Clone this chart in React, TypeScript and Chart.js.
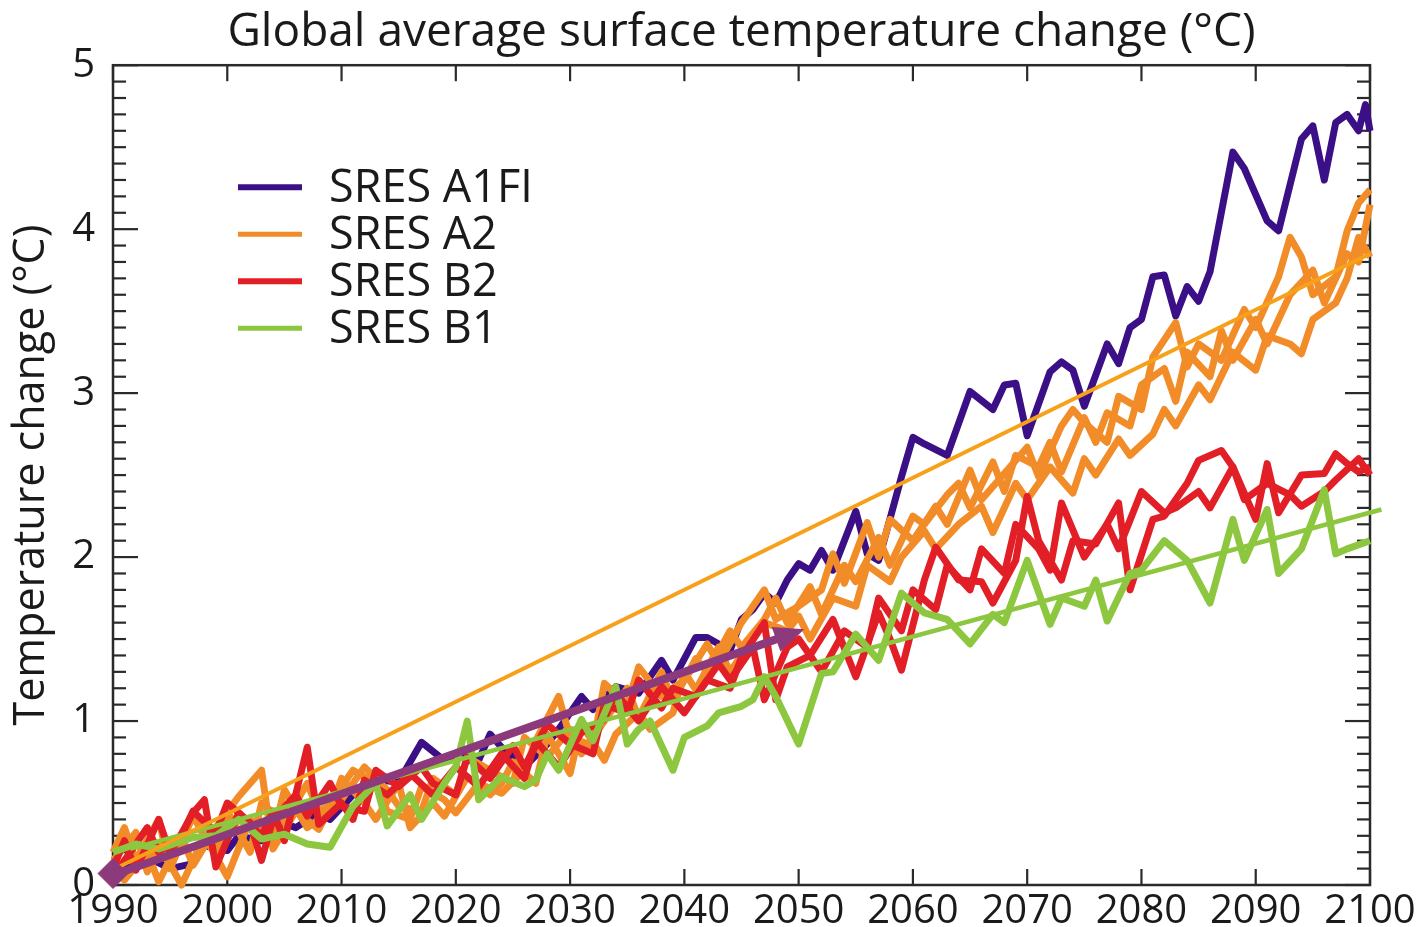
import { useEffect, useRef } from 'react';
import { Chart, registerables } from 'chart.js';

Chart.register(...registerables);

// ---------- text & axes ----------
const TITLE = 'Global average surface temperature change (°C)';
const Y_TITLE = 'Temperature change (°C)';
const X_MIN = 1990;
const X_MAX = 2100;
const X_STEP = 10;
const Y_MIN = 0;
const Y_MAX = 5;
const Y_STEP = 1;
const Y_MINOR = 0.1;
const LEGEND_LABELS = ['SRES A1FI', 'SRES A2', 'SRES B2', 'SRES B1'];

// ---------- series ----------
const A1FI_YEARS = [1990, 1991, 1993, 1995, 1997, 1998, 2000, 2001, 2003, 2004, 2006, 2008, 2009, 2011, 2013, 2015, 2017, 2019, 2020, 2022, 2023, 2024, 2026, 2028, 2029, 2031, 2032, 2034, 2036, 2037, 2038, 2039, 2041, 2042, 2044, 2045, 2046, 2047, 2048, 2049, 2050, 2051, 2052, 2053, 2055, 2056, 2057, 2059, 2060, 2061, 2063, 2065, 2067, 2068, 2069, 2070, 2072, 2073, 2074, 2075, 2077, 2078, 2079, 2080, 2081, 2082, 2083, 2084, 2085, 2086, 2088, 2089, 2091, 2092, 2094, 2095, 2096, 2097, 2098, 2099, 2099.6, 2100];
const A1FI_VALUES = [0.05, 0.10, 0.17, 0.10, 0.13, 0.24, 0.21, 0.30, 0.27, 0.40, 0.35, 0.44, 0.40, 0.55, 0.64, 0.63, 0.87, 0.76, 0.80, 0.76, 0.92, 0.84, 0.72, 0.86, 0.95, 1.15, 1.07, 1.21, 1.17, 1.27, 1.37, 1.25, 1.51, 1.51, 1.43, 1.62, 1.68, 1.78, 1.72, 1.86, 1.96, 1.92, 2.04, 1.92, 2.28, 2.02, 1.98, 2.49, 2.73, 2.69, 2.62, 3.01, 2.90, 3.05, 3.06, 2.74, 3.13, 3.19, 3.14, 2.92, 3.30, 3.18, 3.40, 3.45, 3.71, 3.72, 3.47, 3.65, 3.56, 3.74, 4.47, 4.37, 4.05, 3.99, 4.55, 4.63, 4.30, 4.65, 4.70, 4.60, 4.76, 4.60];

const A2_RUN1_YEARS = [1990, 1991, 1993, 1994, 1996, 1997, 1999, 2001, 2003, 2004, 2006, 2008, 2010, 2011, 2013, 2014, 2016, 2017, 2019, 2020, 2022, 2024, 2026, 2027, 2029, 2030, 2032, 2033, 2035, 2036, 2038, 2040, 2042, 2043, 2045, 2047, 2048, 2050, 2052, 2053, 2054, 2056, 2057, 2058, 2060, 2062, 2063, 2065, 2066, 2068, 2070, 2071, 2073, 2074, 2075, 2077, 2078, 2080, 2081, 2083, 2084, 2085, 2087, 2089, 2090, 2092, 2093, 2094, 2095, 2097, 2098, 2099, 2100];
const A2_RUN1_VALUES = [0.10, 0.03, 0.20, 0.02, 0.30, 0.12, 0.35, 0.54, 0.70, 0.22, 0.45, 0.34, 0.60, 0.70, 0.62, 0.45, 0.40, 0.60, 0.52, 0.44, 0.62, 0.56, 0.70, 0.88, 1.15, 0.90, 0.85, 1.23, 1.10, 1.33, 1.15, 1.25, 1.47, 1.35, 1.60, 1.80, 1.62, 1.70, 1.80, 2.02, 1.84, 2.21, 2.00, 2.23, 2.10, 2.31, 2.20, 2.53, 2.35, 2.51, 2.67, 2.49, 2.80, 2.90, 2.82, 2.70, 2.98, 2.90, 3.22, 3.43, 3.16, 3.30, 3.20, 3.51, 3.40, 3.71, 3.95, 3.83, 3.60, 3.71, 3.99, 4.16, 4.24];

const A2_RUN2_YEARS = [1990, 1992, 1993, 1994, 1996, 1998, 2000, 2002, 2004, 2005, 2007, 2009, 2010, 2012, 2013, 2015, 2016, 2018, 2019, 2021, 2023, 2024, 2025, 2027, 2028, 2030, 2031, 2033, 2034, 2036, 2037, 2039, 2040, 2041, 2043, 2044, 2046, 2047, 2049, 2050, 2051, 2053, 2055, 2056, 2058, 2059, 2061, 2062, 2064, 2066, 2067, 2069, 2070, 2072, 2074, 2075, 2076, 2078, 2079, 2081, 2082, 2083, 2085, 2086, 2088, 2090, 2091, 2093, 2094, 2095, 2097, 2098, 2099, 2100];
const A2_RUN2_VALUES = [0.15, 0.32, 0.08, 0.25, 0.00, 0.30, 0.05, 0.40, 0.30, 0.58, 0.35, 0.45, 0.65, 0.50, 0.40, 0.62, 0.35, 0.50, 0.42, 0.66, 0.55, 0.62, 0.75, 0.62, 0.92, 0.68, 0.98, 0.76, 0.92, 1.05, 0.95, 1.05, 1.30, 1.19, 1.45, 1.30, 1.50, 1.60, 1.55, 1.64, 1.50, 1.75, 1.70, 1.95, 1.85, 2.00, 2.16, 2.05, 2.20, 2.31, 2.15, 2.45, 2.35, 2.55, 2.39, 2.60, 2.50, 2.72, 2.62, 2.75, 2.90, 2.80, 3.05, 2.96, 3.25, 3.14, 3.35, 3.30, 3.24, 3.45, 3.55, 3.70, 3.95, 3.83];

const A2_RUN3_YEARS = [1990, 1991, 1992, 1994, 1995, 1997, 1999, 2000, 2002, 2003, 2005, 2007, 2008, 2010, 2012, 2014, 2015, 2017, 2018, 2020, 2021, 2023, 2025, 2026, 2028, 2030, 2031, 2033, 2035, 2036, 2038, 2039, 2041, 2042, 2044, 2045, 2047, 2048, 2049, 2051, 2052, 2054, 2055, 2057, 2058, 2060, 2061, 2063, 2064, 2065, 2067, 2068, 2069, 2071, 2072, 2073, 2075, 2076, 2077, 2079, 2080, 2082, 2083, 2084, 2086, 2087, 2088, 2090, 2091, 2093, 2095, 2096, 2098, 2099, 2100];
const A2_RUN3_VALUES = [0.20, 0.35, 0.15, 0.40, 0.10, 0.42, 0.18, 0.45, 0.20, 0.50, 0.38, 0.62, 0.45, 0.52, 0.72, 0.58, 0.48, 0.45, 0.65, 0.55, 0.78, 0.70, 0.62, 0.90, 0.78, 0.95, 0.80, 1.00, 1.20, 1.02, 1.30, 1.12, 1.38, 1.30, 1.55, 1.45, 1.62, 1.75, 1.60, 1.82, 1.65, 1.95, 1.85, 2.12, 1.95, 2.25, 2.20, 2.38, 2.45, 2.30, 2.58, 2.40, 2.62, 2.55, 2.70, 2.52, 2.85, 2.70, 2.88, 2.80, 3.05, 3.15, 2.95, 3.25, 3.10, 3.38, 3.20, 3.45, 3.30, 3.60, 3.75, 3.55, 3.85, 3.80, 4.15];

const B2_RUN1_YEARS = [1990, 1991, 1992, 1994, 1995, 1997, 1998, 1999, 2001, 2003, 2004, 2005, 2007, 2008, 2010, 2011, 2012, 2014, 2016, 2018, 2020, 2022, 2024, 2026, 2027, 2029, 2031, 2033, 2034, 2036, 2038, 2040, 2042, 2044, 2045, 2047, 2048, 2049, 2051, 2053, 2055, 2057, 2058, 2059, 2061, 2062, 2064, 2066, 2067, 2069, 2070, 2071, 2073, 2074, 2076, 2078, 2079, 2081, 2082, 2084, 2085, 2087, 2088, 2090, 2091, 2092, 2094, 2096, 2097, 2098, 2099, 2100];
const B2_RUN1_VALUES = [0.10, 0.27, 0.09, 0.40, 0.19, 0.44, 0.52, 0.11, 0.44, 0.30, 0.45, 0.27, 0.84, 0.37, 0.50, 0.40, 0.64, 0.55, 0.68, 0.55, 0.72, 0.60, 0.80, 0.65, 0.88, 0.72, 0.93, 1.01, 1.17, 1.00, 1.21, 1.05, 1.25, 1.20, 1.39, 1.60, 1.13, 1.33, 1.40, 1.62, 1.27, 1.66, 1.50, 1.31, 1.86, 2.06, 1.86, 1.85, 1.72, 1.98, 2.37, 2.10, 1.86, 2.10, 2.08, 2.33, 1.80, 2.23, 2.25, 2.45, 2.59, 2.65, 2.55, 2.23, 2.57, 2.27, 2.50, 2.51, 2.63, 2.57, 2.52, 2.55];

const B2_RUN2_YEARS = [1990, 1991, 1993, 1994, 1996, 1997, 1999, 2000, 2002, 2003, 2004, 2006, 2007, 2009, 2010, 2012, 2013, 2015, 2017, 2018, 2020, 2021, 2023, 2025, 2026, 2028, 2030, 2032, 2033, 2035, 2036, 2038, 2039, 2041, 2043, 2044, 2046, 2047, 2049, 2050, 2052, 2054, 2056, 2057, 2059, 2060, 2062, 2063, 2065, 2066, 2068, 2069, 2071, 2072, 2073, 2075, 2077, 2078, 2080, 2082, 2083, 2085, 2086, 2088, 2089, 2091, 2093, 2094, 2096, 2097, 2099, 2100];
const B2_RUN2_VALUES = [0.05, 0.15, 0.35, 0.20, 0.30, 0.45, 0.32, 0.50, 0.38, 0.15, 0.40, 0.55, 0.42, 0.62, 0.48, 0.45, 0.70, 0.60, 0.72, 0.62, 0.55, 0.78, 0.65, 0.85, 0.72, 0.98, 0.86, 0.80, 1.10, 1.05, 1.25, 1.08, 1.20, 1.15, 1.35, 1.25, 1.45, 1.13, 1.45, 1.50, 1.30, 1.55, 1.45, 1.75, 1.55, 1.80, 1.68, 1.95, 1.80, 2.05, 1.90, 2.20, 2.05, 1.92, 2.33, 2.00, 2.20, 2.05, 2.40, 2.27, 2.30, 2.40, 2.30, 2.55, 2.35, 2.45, 2.38, 2.31, 2.40, 2.47, 2.60, 2.50];

const B1_YEARS = [1990, 1992, 1994, 1997, 1999, 2001, 2003, 2005, 2007, 2009, 2011, 2013, 2014, 2016, 2017, 2019, 2020, 2021, 2022, 2024, 2026, 2027, 2028, 2029, 2031, 2032, 2034, 2035, 2036, 2037, 2039, 2040, 2042, 2043, 2045, 2046, 2047, 2048, 2050, 2052, 2053, 2055, 2056, 2057, 2059, 2061, 2063, 2065, 2067, 2068, 2070, 2072, 2073, 2075, 2076, 2077, 2079, 2080, 2082, 2084, 2086, 2088, 2089, 2091, 2092, 2094, 2096, 2097, 2098, 2100];
const B1_VALUES = [0.20, 0.25, 0.22, 0.29, 0.30, 0.40, 0.28, 0.31, 0.25, 0.23, 0.48, 0.62, 0.36, 0.55, 0.40, 0.62, 0.72, 1.00, 0.52, 0.66, 0.60, 0.64, 0.80, 0.70, 1.01, 0.88, 1.21, 0.86, 0.95, 1.00, 0.70, 0.90, 0.97, 1.05, 1.09, 1.13, 1.27, 1.15, 0.86, 1.29, 1.30, 1.53, 1.45, 1.37, 1.78, 1.66, 1.62, 1.47, 1.65, 1.60, 1.98, 1.59, 1.75, 1.70, 1.86, 1.61, 1.90, 1.92, 2.10, 1.98, 1.72, 2.23, 1.98, 2.29, 1.90, 2.05, 2.41, 2.02, 2.05, 2.10];

const A2_TREND_YEARS = [1990.5, 2100];
const A2_TREND_VALUES = [0.11, 3.85];
const B1_TREND_YEARS = [1991.5, 2101];
const B1_TREND_VALUES = [0.22, 2.29];
const ARROW_YEARS = [1990, 2050.5];
const ARROW_VALUES = [0.06, 1.56];
const START_YEAR = [1990];
const START_VALUE = [0.07];

// ---------- styles ----------
const FONT = '"Open Sans", "Noto Sans", sans-serif';
const INK = '#1a1a1a';
const PURPLE = '#3b0f86';
const ORANGE = '#f28c28';
const RED = '#e21f26';
const GREEN = '#8dc63f';
const TREND_ORANGE = '#f7a11a';
const PLUM = '#8d3a7c';
const LEGEND_COLORS = [PURPLE, ORANGE, RED, GREEN];
const LEGEND_WIDTHS = [6, 5, 6, 5];
const DATA_WIDTH = 7;

const pts = (xs: number[], ys: number[]) => xs.map((x, i) => ({ x, y: ys[i] }));

const frameTicksPlugin = {
  id: 'frameTicks',
  beforeDatasetsDraw(chart: any) {
    const { ctx, chartArea: a, scales } = chart;
    const xs = scales.x;
    const ys = scales.y;
    ctx.save();
    ctx.strokeStyle = '#2a2a2a';
    ctx.lineWidth = 2.5;
    ctx.strokeRect(a.left, a.top, a.right - a.left, a.bottom - a.top);
    const seg = (x1: number, y1: number, x2: number, y2: number) => {
      ctx.beginPath();
      ctx.moveTo(x1, y1);
      ctx.lineTo(x2, y2);
      ctx.stroke();
    };
    ctx.lineWidth = 2.2;
    const majors = ys.ticks.map((t: any) => t.value);
    majors.forEach((v: number, i: number) => {
      const py = ys.getPixelForValue(v);
      seg(a.left, py, a.left + 25, py);
      seg(a.right, py, a.right - 25, py);
      if (i < majors.length - 1) {
        const next = majors[i + 1];
        const n = Math.round((next - v) / Y_MINOR);
        for (let k = 1; k < n; k++) {
          const pm = ys.getPixelForValue(v + k * Y_MINOR);
          seg(a.left, pm, a.left + 13, pm);
          seg(a.right, pm, a.right - 13, pm);
        }
      }
    });
    xs.ticks.forEach((t: any) => {
      const px = xs.getPixelForValue(t.value);
      seg(px, a.bottom, px, a.bottom - 16);
      seg(px, a.top, px, a.top + 16);
    });
    ctx.restore();
  },
};

const overlayPlugin = {
  id: 'overlay',
  afterDatasetsDraw(chart: any) {
    const { ctx, chartArea: a } = chart;
    // arrow
    const idx = chart.data.datasets.findIndex((d: any) => d.label === 'arrow');
    const meta = chart.getDatasetMeta(idx);
    if (meta && meta.data.length === 2) {
      const p0 = meta.data[0];
      const p1 = meta.data[1];
      const dx = p1.x - p0.x;
      const dy = p1.y - p0.y;
      const len = Math.hypot(dx, dy);
      const ux = dx / len;
      const uy = dy / len;
      const headLen = 30;
      const headHalf = 13;
      const bx = p1.x - ux * headLen;
      const by = p1.y - uy * headLen;
      ctx.save();
      ctx.strokeStyle = PLUM;
      ctx.fillStyle = PLUM;
      ctx.lineWidth = 8;
      ctx.lineCap = 'butt';
      ctx.beginPath();
      ctx.moveTo(p0.x, p0.y);
      ctx.lineTo(bx + ux * 2, by + uy * 2);
      ctx.stroke();
      ctx.beginPath();
      ctx.moveTo(p1.x, p1.y);
      ctx.lineTo(bx - uy * headHalf, by + ux * headHalf);
      ctx.lineTo(bx + uy * headHalf, by - ux * headHalf);
      ctx.closePath();
      ctx.fill();
      ctx.restore();
    }
    // legend
    ctx.save();
    ctx.font = `45px ${FONT}`;
    ctx.textBaseline = 'middle';
    ctx.textAlign = 'left';
    LEGEND_LABELS.forEach((label, i) => {
      const cy = a.top + 122 + i * 47;
      ctx.strokeStyle = LEGEND_COLORS[i];
      ctx.lineWidth = LEGEND_WIDTHS[i];
      ctx.beginPath();
      ctx.moveTo(a.left + 125, cy);
      ctx.lineTo(a.left + 189, cy);
      ctx.stroke();
      ctx.fillStyle = INK;
      ctx.fillText(label, a.left + 216, cy + 2);
    });
    ctx.restore();
  },
};

export default function App() {
  const ref = useRef<HTMLCanvasElement | null>(null);

  useEffect(() => {
    document.body.style.margin = '0';
    const canvas = ref.current;
    if (!canvas) return;

    const line = (label: string, data: any[], color: string, width: number, order: number, extra: any = {}) => ({
      label,
      data,
      borderColor: color,
      backgroundColor: color,
      borderWidth: width,
      pointRadius: 0,
      tension: 0,
      fill: false,
      borderJoinStyle: 'round',
      order,
      ...extra,
    });

    const chart = new Chart(canvas, {
      type: 'line',
      data: {
        datasets: [
          {
            label: 'start',
            data: pts(START_YEAR, START_VALUE),
            showLine: false,
            pointStyle: 'rectRot',
            pointRadius: 15,
            pointBackgroundColor: PLUM,
            pointBorderColor: PLUM,
            borderColor: PLUM,
            backgroundColor: PLUM,
            clip: false,
            order: 0,
          } as any,
          line('arrow', pts(ARROW_YEARS, ARROW_VALUES), PLUM, 0, 1, { showLine: false }),
          line('A2 trend', pts(A2_TREND_YEARS, A2_TREND_VALUES), TREND_ORANGE, 4, 2, { clip: false }),
          line('B1 trend', pts(B1_TREND_YEARS, B1_TREND_VALUES), GREEN, 4.5, 2, { clip: false }),
          line(LEGEND_LABELS[3], pts(B1_YEARS, B1_VALUES), GREEN, DATA_WIDTH, 3, { clip: false }),
          line(LEGEND_LABELS[2], pts(B2_RUN1_YEARS, B2_RUN1_VALUES), RED, DATA_WIDTH, 4, { clip: false }),
          line(LEGEND_LABELS[2] + ' b', pts(B2_RUN2_YEARS, B2_RUN2_VALUES), RED, DATA_WIDTH, 4, { clip: false }),
          line(LEGEND_LABELS[1], pts(A2_RUN1_YEARS, A2_RUN1_VALUES), ORANGE, DATA_WIDTH, 5, { clip: false }),
          line(LEGEND_LABELS[1] + ' b', pts(A2_RUN2_YEARS, A2_RUN2_VALUES), ORANGE, DATA_WIDTH, 5, { clip: false }),
          line(LEGEND_LABELS[1] + ' c', pts(A2_RUN3_YEARS, A2_RUN3_VALUES), ORANGE, DATA_WIDTH, 5, { clip: false }),
          line(LEGEND_LABELS[0], pts(A1FI_YEARS, A1FI_VALUES), PURPLE, DATA_WIDTH, 6, { clip: false }),
        ] as any,
      },
      options: {
        animation: false,
        responsive: true,
        maintainAspectRatio: false,
        devicePixelRatio: 1,
        layout: { padding: { top: 0, right: 52, bottom: 0, left: 0 } },
        plugins: {
          legend: { display: false },
          tooltip: { enabled: false },
          title: {
            display: true,
            text: TITLE,
            fullSize: false,
            color: INK,
            font: { family: FONT, size: 46, weight: 'normal', lineHeight: 1.2 },
            padding: { top: 5, bottom: 5 },
          },
        },
        scales: {
          x: {
            type: 'linear',
            min: X_MIN,
            max: X_MAX,
            grid: { display: false },
            border: { display: false },
            ticks: {
              stepSize: X_STEP,
              autoSkip: false,
              maxRotation: 0,
              padding: -5,
              color: INK,
              font: { family: FONT, size: 40 },
              callback: (v: any) => String(v),
            },
            afterFit: (s: any) => {
              s.height = 42;
            },
          },
          y: {
            type: 'linear',
            min: Y_MIN,
            max: Y_MAX,
            grid: { display: false },
            border: { display: false },
            ticks: {
              stepSize: Y_STEP,
              padding: 10,
              color: INK,
              font: { family: FONT, size: 40 },
              callback: (v: any) => String(v),
            },
            title: {
              display: true,
              text: Y_TITLE,
              color: INK,
              font: { family: FONT, size: 43, weight: 'normal', lineHeight: 1.2 },
              padding: { top: 6, bottom: 0 },
            },
            afterFit: (s: any) => {
              s.width = 113;
            },
          },
        },
      } as any,
      plugins: [frameTicksPlugin, overlayPlugin],
    });

    return () => chart.destroy();
  }, []);

  return (
    <div style={{ position: 'relative', width: '1422px', height: '927px' }}>
      <canvas ref={ref} />
    </div>
  );
}
